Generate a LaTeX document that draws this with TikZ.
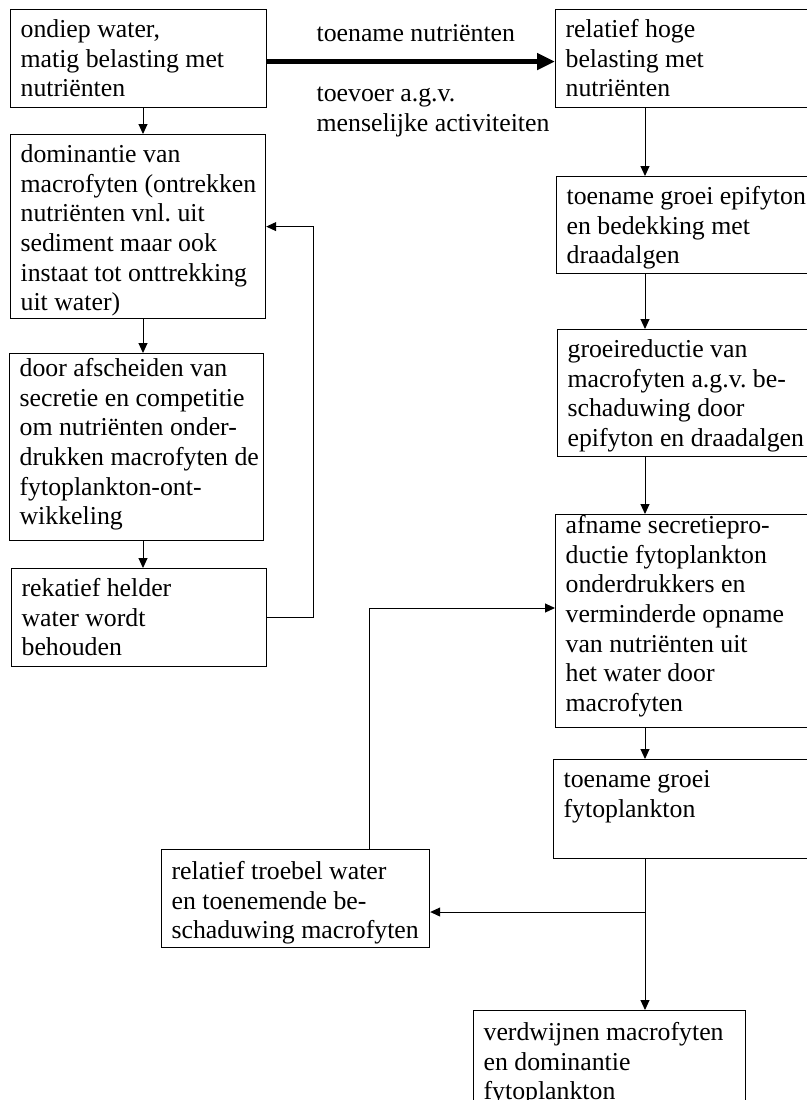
\documentclass[tikz,border=0pt]{standalone}
\usepackage{fontspec}
\setmainfont{Liberation Serif}
\usetikzlibrary{arrows.meta}
\hyphenpenalty=10000
\frenchspacing

\begin{document}
\begin{tikzpicture}[x=0.5pt, y=-0.5pt,
                    font=\fontsize{12.9}{14.8}\selectfont,
                    blok/.style={draw, line width=0.6pt, anchor=north west, align=flush left,
                                 inner xsep=5pt, inner ysep=2pt, text height=12pt},
                    pijl/.style={-{Triangle[length=5pt, width=4.5pt]}, line width=0.5pt}]
        \useasboundingbox (0,0) rectangle (807,1100);
        \clip (0,0) rectangle (807,1100);
        \coordinate (links) at (143,0);
        \coordinate (kol) at (645,0);
        \coordinate (split) at (645,912);
        \coordinate (terug) at (369,608);
        % linker kolom
        \node[blok, text width=118pt, text depth=33pt] (ondiep) at (10,9)
            {ondiep water,\\matig belasting met\\nutriënten};
        \node[blok, text width=117.5pt, text depth=76pt] (dominantie) at (10,134)
            {dominantie van\\\mbox{macrofyten (ontrekken}\\nutriënten vnl. uit\\sediment maar ook\\instaat tot onttrekking\\uit water)};
        \node[blok, text width=117pt, text height=9.5pt, text depth=80pt] (afscheiden) at (9,353)
            {door afscheiden van\\secretie en competitie\\om nutriënten onder-\\\mbox{drukken macrofyten de}\\fytoplankton-ont-\\wikkeling};
        \node[blok, text width=117.5pt, text depth=33pt] (helder) at (11,568)
            {rekatief helder\\water wordt\\behouden};
        % rechter kolom
        \node[blok, text width=130pt, text depth=33pt] (belasting) at (555,9)
            {relatief hoge\\belasting met\\nutriënten};
        \node[blok, text width=130pt, text depth=32.5pt] (epifyton) at (556,176)
            {toename groei epifyton\\en bedekking met\\draadalgen};
        \node[blok, text width=130pt, text depth=47.5pt] (reductie) at (557,329)
            {groeireductie van\\macrofyten a.g.v. be-\\schaduwing door\\epifyton en draadalgen};
        \node[blok, text width=130pt, text height=7.5pt, text depth=95pt] (afname) at (555,514)
            {afname secretiepro-\\ductie fytoplankton\\onderdrukkers en\\verminderde opname\\van nutriënten uit\\het water door\\macrofyten};
        \node[blok, text width=130pt, text depth=33.5pt] (fytogroei) at (553,759)
            {toename groei\\fytoplankton};
        % onderste rij
        \node[blok, text width=124pt, text height=13pt, text depth=32pt] (troebel) at (161,849)
            {relatief troebel water\\en toenemende be-\\\mbox{schaduwing macrofyten}};
        \node[blok, text width=126pt, text height=13pt, text depth=70pt] (verdwijnen) at (473,1010)
            {verdwijnen macrofyten\\en dominantie\\fytoplankton};
        % pijlen
        \draw[line width=2.5pt, -{Triangle[length=9pt, width=8pt]}]
            ([yshift=-1.5pt]ondiep.east) -- ([yshift=-1.5pt]ondiep.east -| belasting.west)
            node[pos=.163, anchor=base west, yshift=10pt, inner sep=0pt] {toename nutriënten}
            node[pos=.163, anchor=base west, yshift=-20pt, inner sep=0pt, text width=130pt, align=flush left]
                {toevoer a.g.v.\\menselijke activiteiten};
        \draw[pijl] (ondiep.south -| links) -- (dominantie.north -| links);
        \draw[pijl] (dominantie.south -| links) -- (afscheiden.north -| links);
        \draw[pijl] (afscheiden.south -| links) -- (helder.north -| links);
        \draw[pijl] (helder.east) -- ++(46,0) |- (dominantie.east);
        \draw[pijl] (belasting.south -| kol) -- (epifyton.north -| kol);
        \draw[pijl] (epifyton.south -| kol) -- (reductie.north -| kol);
        \draw[pijl] (reductie.south -| kol) -- (afname.north -| kol);
        \draw[pijl] (afname.south -| kol) -- (fytogroei.north -| kol);
        \draw[line width=0.5pt] (fytogroei.south -| kol) -- (split);
        \draw[pijl] (split) -- (split -| troebel.east);
        \draw[pijl] (split) -- (split |- verdwijnen.north);
        \draw[pijl] (troebel.north -| terug) -- (terug) -- (terug -| afname.west);
\end{tikzpicture}
\end{document}
